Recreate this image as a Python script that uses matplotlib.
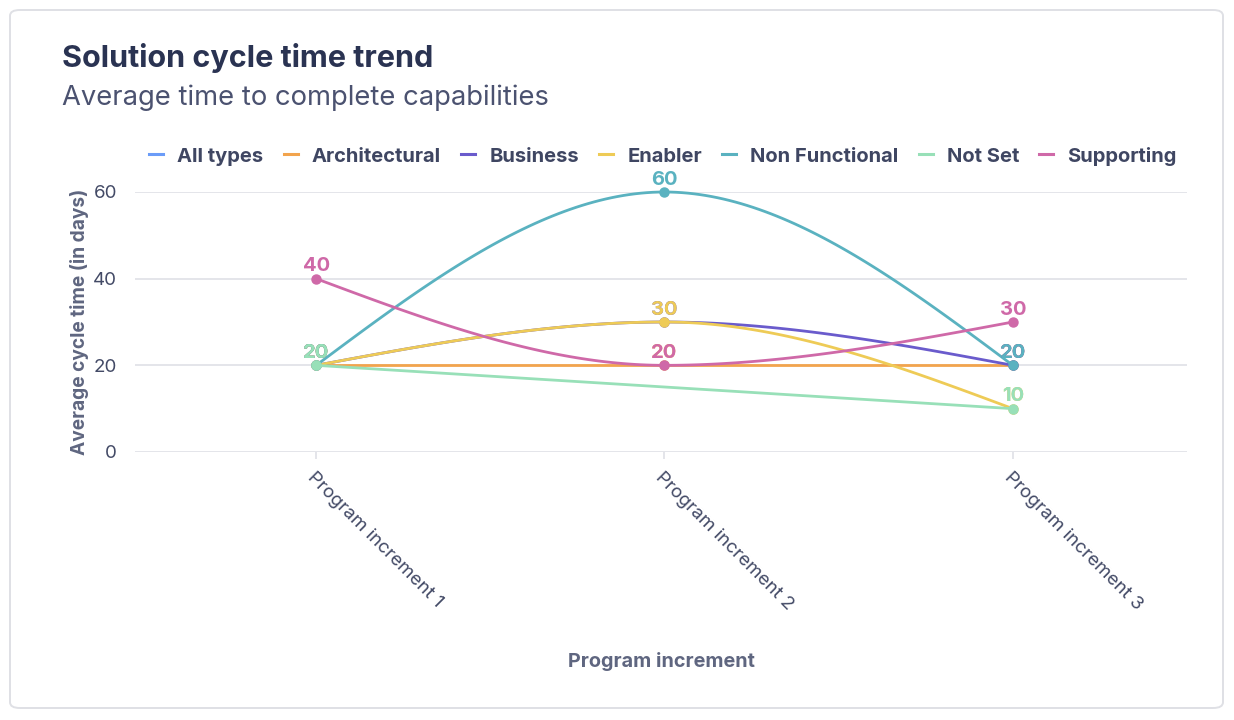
#!/usr/bin/env python3
"""
Solution cycle time trend - smoothed line chart per capability type.
"""
import numpy as np
import matplotlib
matplotlib.use('Agg')
import matplotlib.pyplot as plt
from matplotlib.lines import Line2D
from matplotlib.patches import FancyBboxPatch

plt.rcParams['font.family'] = ['Inter', 'DejaVu Sans']

# Data
categories = ['Program increment 1', 'Program increment 2', 'Program increment 3']
series_names = ['All types', 'Architectural', 'Business', 'Enabler',
                'Non Functional', 'Not Set', 'Supporting']
all_types = [None, None, None]
architectural = [20, 20, 20]
business = [20, 30, 20]
enabler = [20, 30, 10]
non_functional = [20, 60, 20]
not_set = [20, None, 10]
supporting = [40, 20, 30]
series_values = [all_types, architectural, business, enabler,
                 non_functional, not_set, supporting]
colors = ['#6b9cf8', '#f2a44d', '#6a5bcc', '#eecb56', '#5ab2c0', '#98e0b8', '#cf69a8']

W, H = 1234, 720
TEXT_DARK = '#2a3352'
TEXT_MID = '#434a66'
TEXT_AXIS = '#5f6680'
GRID = '#e2e3e8'


def monotone_curve(xs, ys, n=60):
    """Monotone cubic (monotoneX style) through the points."""
    xs = np.asarray(xs, dtype=float)
    ys = np.asarray(ys, dtype=float)
    m = len(xs)
    if m < 3:
        return xs, ys
    h = np.diff(xs)
    s = np.diff(ys) / h
    t = np.zeros(m)
    for i in range(1, m - 1):
        p = (s[i - 1] * h[i] + s[i] * h[i - 1]) / (h[i - 1] + h[i])
        t[i] = (np.sign(s[i - 1]) + np.sign(s[i])) * min(abs(s[i - 1]), abs(s[i]), 0.5 * abs(p))
    t[0] = (3 * s[0] - t[1]) / 2
    t[-1] = (3 * s[-1] - t[-2]) / 2
    cx, cy = [xs[0]], [ys[0]]
    u = np.linspace(0, 1, n)[1:]
    for i in range(m - 1):
        x0, x1, y0, y1 = xs[i], xs[i + 1], ys[i], ys[i + 1]
        c1 = (x0 + h[i] / 3, y0 + h[i] / 3 * t[i])
        c2 = (x1 - h[i] / 3, y1 - h[i] / 3 * t[i + 1])
        b0, b1, b2, b3 = (1 - u) ** 3, 3 * (1 - u) ** 2 * u, 3 * (1 - u) * u ** 2, u ** 3
        cx.extend(b0 * x0 + b1 * c1[0] + b2 * c2[0] + b3 * x1)
        cy.extend(b0 * y0 + b1 * c1[1] + b2 * c2[1] + b3 * y1)
    return np.array(cx), np.array(cy)


fig = plt.figure(figsize=(W / 100, H / 100), dpi=100)
fig.patch.set_facecolor('white')

# card outline
card = FancyBboxPatch((10 / W, 12 / H), 1213 / W, 698 / H,
                      boxstyle='round,pad=0,rounding_size=0.008',
                      transform=fig.transFigure, facecolor='none',
                      edgecolor='#dfe0e5', linewidth=1.4, zorder=-1)
fig.patches.append(card)

fig.text(62 / W, 1 - 58 / H, 'Solution cycle time trend', fontsize=22,
         fontweight='bold', color=TEXT_DARK, va='center', ha='left')
fig.text(62 / W, 1 - 98 / H, 'Average time to complete capabilities', fontsize=19.7,
         color='#4b5270', va='center', ha='left')

left, right, top, bottom = 135, 1187, 192, 452
ax = fig.add_axes([left / W, 1 - bottom / H, (right - left) / W, (bottom - top) / H])
ax.set_facecolor('none')
ax.set_xlim(-0.52, 2.5)
ax.set_ylim(0, 60)
for s in ax.spines.values():
    s.set_visible(False)
ax.set_yticks([0, 20, 40, 60])
ax.yaxis.grid(True, color=GRID, linewidth=1.3)
ax.set_axisbelow(True)
ax.tick_params(axis='y', length=0, pad=13, labelsize=13.5, labelcolor=TEXT_MID)
x = np.arange(len(categories))
ax.set_xticks(x)
ax.set_xticklabels(categories, rotation=-45, ha='left', va='top',
                   rotation_mode='anchor', fontsize=13.5, color=TEXT_MID)
ax.tick_params(axis='x', length=5, color=GRID, width=1.3, pad=7)
ax.set_ylabel('Average cycle time (in days)', fontsize=13.8, fontweight='bold',
              color=TEXT_AXIS, labelpad=3)
ax.set_xlabel('Program increment', fontsize=14.3, fontweight='bold',
              color=TEXT_AXIS)
ax.xaxis.set_label_coords(0.5, -(652 - bottom) / (bottom - top))

for k, (name, vals, col) in enumerate(zip(series_names, series_values, colors)):
    pts = [(xi, v) for xi, v in zip(x, vals) if v is not None]
    if not pts:
        continue
    pts = np.array(pts, dtype=float)
    cx, cy = monotone_curve(pts[:, 0], pts[:, 1])
    z = 3 + k
    ax.plot(cx, cy, color=col, lw=2.0, zorder=z,
            solid_capstyle='round', clip_on=False)
    ax.plot(pts[:, 0], pts[:, 1], 'o', color=col, ms=6.5, zorder=z, clip_on=False)
    for xi, v in pts:
        ax.annotate(f'{int(v)}', (xi, v), xytext=(0, 2.5), textcoords='offset points',
                    ha='center', va='bottom', fontsize=14.5, fontweight='bold',
                    color=col, zorder=20 + k, annotation_clip=False)

handles = [Line2D([0], [0], color=c, lw=2.2) for c in colors]
fig.legend(handles, series_names, loc='center', ncol=7,
           bbox_to_anchor=(663 / W, 1 - 156 / H), frameon=False,
           handlelength=0.7, handletextpad=0.7, columnspacing=1.0,
           prop={'weight': 'bold', 'size': 14.5}, labelcolor='#3f4662')

fig.savefig('out.png', dpi=100)
